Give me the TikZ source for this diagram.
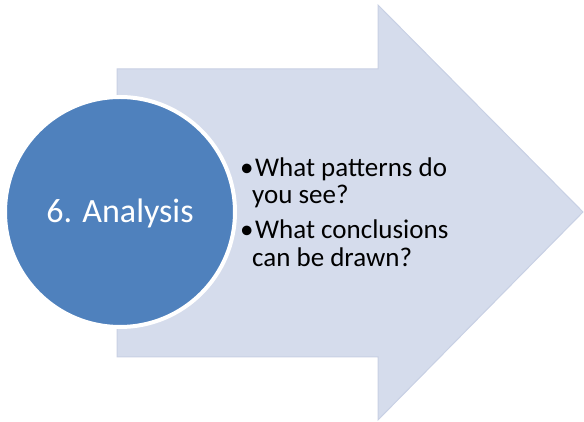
\documentclass[tikz,border=0pt]{standalone}
\usepackage{fontspec}
\setmainfont{Carlito}
\definecolor{arrowfill}{RGB}{213,220,236}
\definecolor{arrowedge}{RGB}{200,208,228}
\definecolor{circblue}{RGB}{79,129,189}
\begin{document}
\begin{tikzpicture}[x=1pt,y=1pt,
  arrowshape/.style={fill=arrowfill,draw=arrowedge,line width=1pt,line join=miter},
  stepcircle/.style={circle,fill=circblue,draw=white,line width=4pt,minimum size=230pt,inner sep=0pt},
  circtext/.style={text=white,font=\fontsize{34}{40}\selectfont,inner sep=0pt},
  bullettext/.style={text=black,font=\fontsize{27}{27.5}\selectfont,inner sep=0pt,align=left}]
\useasboundingbox (0,0) rectangle (584,422);
\coordinate (a1) at (117,353);
\coordinate (a2) at (378,353);
\coordinate (a3) at (378,417);
\coordinate (tip) at (583,210);
\coordinate (a5) at (378,2);
\coordinate (a6) at (378,65);
\coordinate (a7) at (117,65);
\draw[arrowshape] (a1) -- (a2) -- (a3) -- (tip) -- (a5) -- (a6) -- (a7) -- cycle;
\node[stepcircle] (circ) at (120,210) {};
\node[circtext,anchor=base] (lbl) at (120,199) {6. Analysis};
\node[bullettext,anchor=base west] (items) at (240,245.5) {\begin{tabular}[t]{@{}l@{}l@{}}\makebox[15pt][l]{•}&What patterns do\\ \multicolumn{2}{@{}l@{}}{\hspace{12pt}you see?}\\[7.5pt] \makebox[15pt][l]{•}&What conclusions\\ \multicolumn{2}{@{}l@{}}{\hspace{12pt}can be drawn?}\end{tabular}};
\end{tikzpicture}
\end{document}
